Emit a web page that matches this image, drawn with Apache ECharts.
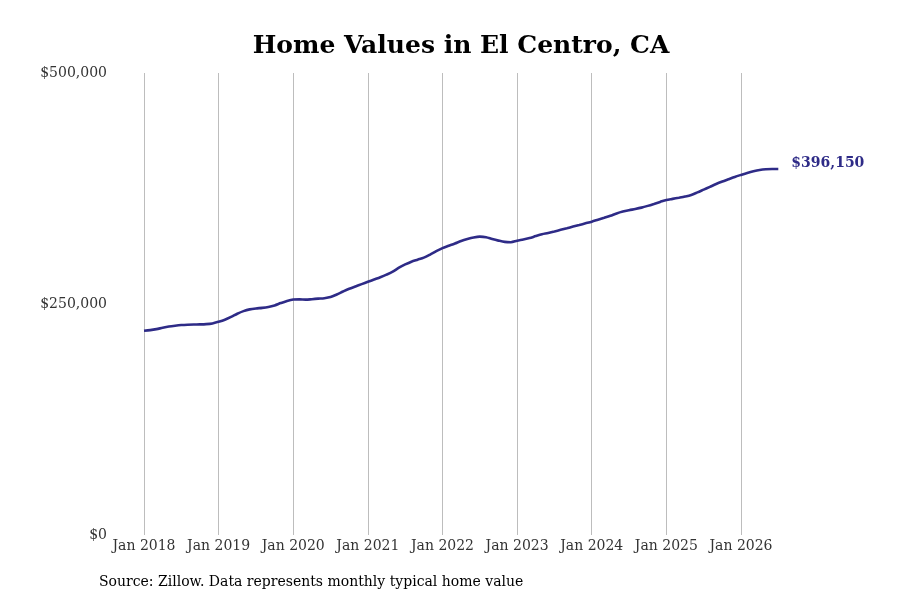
<!DOCTYPE html>
<html>
<head>
<meta charset="utf-8">
<script src="https://cdn.jsdelivr.net/npm/echarts@6/dist/echarts.min.js"></script>
<style>
html,body{margin:0;padding:0;background:#fff;}
#chart{width:900px;height:600px;}
</style>
</head>
<body>
<div id="chart"></div>
<script>
// Monthly typical home value, Jan 2018 .. Jul 2026
const yearTicks = ['Jan 2018','Jan 2019','Jan 2020','Jan 2021','Jan 2022','Jan 2023','Jan 2024','Jan 2025','Jan 2026'];
const yTicks = [0, 250000, 500000];
const values2018 = [221000,221700,222800,224300,225600,226500,227200,227600,227800,227900,228200,229000];
const values2019 = [230800,233000,236000,239500,242300,244200,245200,245800,246800,248500,251000,253300];
const values2020 = [254800,255000,254700,255200,255800,256300,257500,260300,263500,266500,269000,271500];
const values2021 = [274000,276500,279000,281800,285000,289300,292800,295800,298000,300200,303500,307200];
const values2022 = [310500,313000,315500,318200,320300,322000,322900,322300,320300,318600,317200,316900];
const values2023 = [318500,319800,321300,323500,325500,326800,328500,330300,332000,333800,335500,337300];
const values2024 = [339100,341200,343300,345500,348000,350000,351500,352800,354300,356200,358300,360500];
const values2025 = [362600,363800,365000,366300,368000,370800,373800,376800,379800,382500,385000,387500];
const values2026 = [389700,391800,393600,395000,395800,396100,396150];

const allValues = [].concat(values2018,values2019,values2020,values2021,values2022,values2023,values2024,values2025,values2026);
const seriesData = allValues.map((v,i)=>[i,v]);
const lastIndex = allValues.length - 1;

const chart = echarts.init(document.getElementById('chart'));
const serif = 'DejaVu Serif';
const splitColors = yearTicks.map(()=> '#bdbdbd').concat(['rgba(0,0,0,0)']);

chart.setOption({
  animation:false,
  backgroundColor:'#fff',
  title:{
    text:'Home Values in El Centro, CA',
    left:456, top:29, textAlign:'center',
    textStyle:{fontFamily:serif,fontWeight:'bold',fontSize:25,color:'#000'}
  },
  grid:{left:144,right:900-778.3,top:73,bottom:65,containLabel:false},
  xAxis:{
    type:'value',min:0,max:lastIndex,interval:12,
    axisLine:{show:false},axisTick:{show:false},
    splitLine:{show:true,lineStyle:{color:splitColors,width:1}},
    axisLabel:{
      margin:4,fontFamily:serif,fontSize:14,color:'#333',
      showMaxLabel:false,
      formatter:(v)=>{ if(v%12!==0) return ''; return yearTicks[v/12] || ''; }
    }
  },
  yAxis:{
    type:'value',min:yTicks[0],max:yTicks[2],interval:yTicks[1]-yTicks[0],
    axisLine:{show:false},axisTick:{show:false},splitLine:{show:false},
    axisLabel:{
      margin:37,fontFamily:serif,fontSize:14,color:'#333',
      verticalAlign:'middle',
      formatter:(v)=>'$'+v.toLocaleString('en-US')
    }
  },
  graphic:[{
    type:'text',left:99,top:575,
    style:{text:'Source: Zillow. Data represents monthly typical home value',fontFamily:serif,fontSize:14,fill:'#000'}
  }],
  series:[{
    type:'line',data:seriesData,showSymbol:false,smooth:0.3,
    lineStyle:{color:'#2e2b87',width:2.6},
    itemStyle:{color:'#2e2b87'},
    endLabel:{
      show:true,distance:13,
      formatter:(p)=>'$'+p.value[1].toLocaleString('en-US'),
      fontFamily:serif,fontWeight:'bold',fontSize:14,color:'#2e2b87',
      offset:[0,-6]
    }
  }]
});
</script>
</body>
</html>
